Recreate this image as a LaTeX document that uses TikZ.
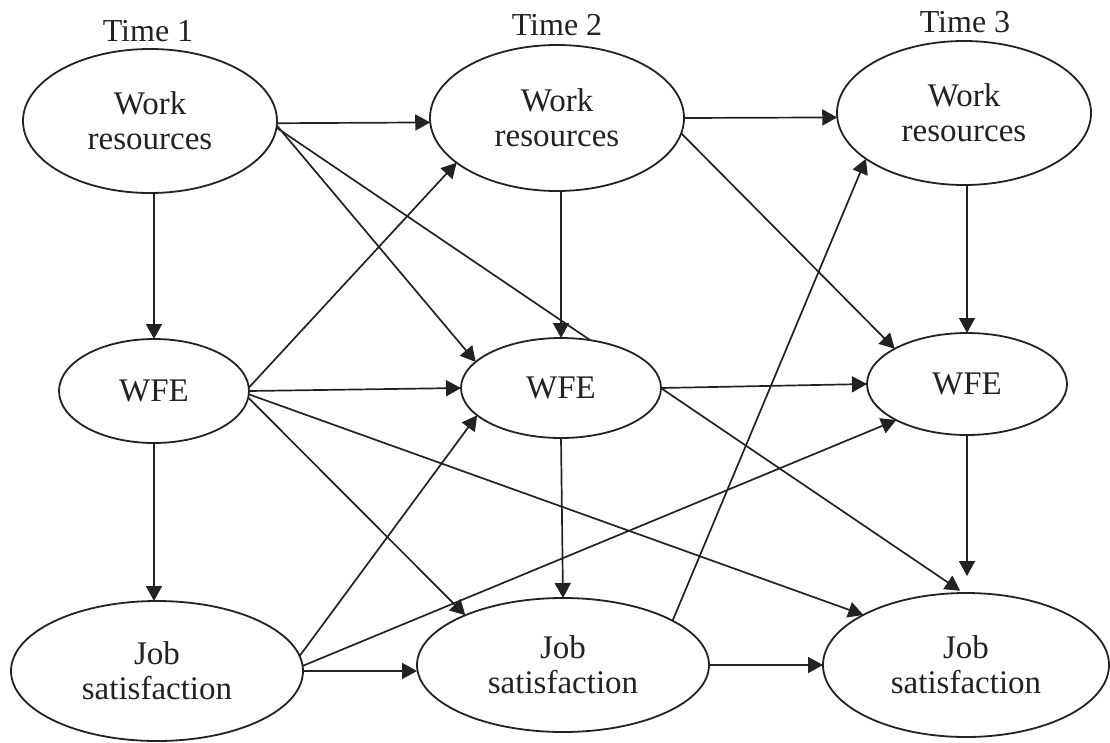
\documentclass[tikz,border=0pt]{standalone}
\usepackage{fontspec}
\setmainfont{Liberation Serif}
\usetikzlibrary{arrows.meta,backgrounds,shapes.geometric}
\definecolor{ink}{HTML}{222222}
\begin{document}
\begin{tikzpicture}[x=1pt,y=-1pt,
  latent/.style={ellipse, draw=ink, line width=1.8pt, fill=white, inner sep=0pt,
    outer sep=0pt, align=center, text=ink, font=\fontsize{33}{35}\selectfont},
  timelabel/.style={anchor=base, text=ink, font=\fontsize{32}{35}\selectfont},
  link/.style={draw=ink, line width=1.7pt, -{Triangle[length=15pt,width=16pt]}}]
\useasboundingbox (0,0) rectangle (1110,742);

% time labels
\node[timelabel] (t1) at (148,41) {Time 1};
\node[timelabel] (t2) at (557,35) {Time 2};
\node[timelabel] (t3) at (965,32) {Time 3};

% work resources
\node[latent, minimum width=254pt, minimum height=144pt] (wr1) at (150,121) {Work\\resources};
\node[latent, minimum width=254pt, minimum height=146pt] (wr2) at (557,118) {Work\\resources};
\node[latent, minimum width=254pt, minimum height=144pt] (wr3) at (964,113) {Work\\resources};

% work-family enrichment
\node[latent, minimum width=190pt, minimum height=104pt] (wfe1) at (154,391) {WFE};
\node[latent, minimum width=200pt, minimum height=100pt] (wfe2) at (561,388) {WFE};
\node[latent, minimum width=200pt, minimum height=102pt] (wfe3) at (967,384) {WFE};

% job satisfaction
\node[latent, minimum width=292pt, minimum height=140pt] (js1) at (157,671) {Job\\satisfaction};
\node[latent, minimum width=292pt, minimum height=134pt] (js2) at (563,665) {Job\\satisfaction};
\node[latent, minimum width=286pt, minimum height=144pt] (js3) at (966,665) {Job\\satisfaction};

\begin{scope}[on background layer]
  % from work resources, time 1
  \draw[link] (wr1.-1) -- (wr2.182);
  \draw[link] (wr1.-2) -- (wfe2.163);
  \draw[link, shorten >=4pt] (wr1.-3) -- (js3.92);
  \draw[link] (wfe1.north |- wr1.south) -- (wfe1.north);
  % from work resources, time 2
  \draw[link] (wr2.east) -- (wr3.182);
  \draw[link] (wr2.-7) -- (wfe3.154);
  \draw[link] (wfe2.north |- wr2.south) -- (wfe2.north);
  % from work resources, time 3
  \draw[link] (wfe3.north |- wr3.south) -- (wfe3.north);
  % from WFE, time 1
  \draw[link] (wfe1.2) -- (wr2.204);
  \draw[link] (wfe1.east) -- (wfe2.west);
  \draw[link] (wfe1.-4) -- (js2.153);
  \draw[link] (wfe1.-2) -- (js3.154);
  \draw[link] (wfe1.south) -- (wfe1.south |- js1.north);
  % from WFE, time 2
  \draw[link] (wfe2.east) -- (wfe3.west);
  \draw[link] (wfe2.south) -- (js2.north);
  % from WFE, time 3
  \draw[link, shorten >=17pt] (wfe3.south) -- (wfe3.south |- js3.north);
  % from job satisfaction, time 1
  \draw[link] (js1.6) -- (wfe2.198);
  \draw[link] (js1.2) -- (wfe3.207);
  \draw[link] (js1.east) -- (js1.east -| js2.west);
  % from job satisfaction, time 2
  \draw[link] (js2.east) -- (js3.west);
  \draw[link] (js2.22) -- (wr3.205);
\end{scope}
\end{tikzpicture}
\end{document}
